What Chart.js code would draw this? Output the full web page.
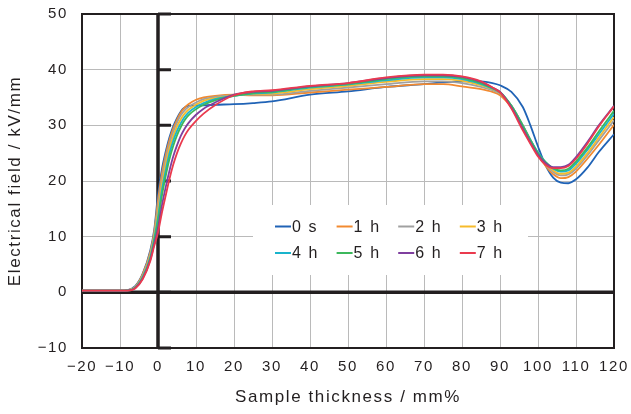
<!DOCTYPE html>
<html>
<head>
<meta charset="utf-8">
<script src="https://cdn.jsdelivr.net/npm/chart.js@4"></script>
<style>
  html, body { margin: 0; padding: 0; background: #fff; }
  #wrap { width: 631px; height: 414px; }
</style>
</head>
<body>
<div id="wrap"><canvas id="c" width="631" height="414"></canvas></div>
<script>
// Sample thickness positions (mm%) shared by all curves
const thickness = [-20, -10, -8, -6, -4, -2, -1, 0, 1, 2, 3, 4, 5, 6, 7, 8, 10, 12, 15, 20, 25, 30, 40, 50, 60, 70, 75, 80, 85, 88, 90, 93, 96, 98, 100, 102, 104, 106, 108, 110, 113, 116, 120];

// Electrical field (kV/mm) after each ageing time
const field0s = [0.3, 0.3, 0.4, 1.1, 3.4, 7.6, 11.2, 17.5, 22.0, 25.2, 27.8, 29.8, 31.3, 32.5, 33.2, 33.5, 33.6, 33.6, 33.7, 33.8, 34.0, 34.3, 35.5, 36.1, 36.9, 37.4, 37.7, 37.9, 37.9, 37.6, 37.2, 36.0, 33.3, 30.0, 26.2, 22.8, 20.6, 19.7, 19.6, 20.3, 22.4, 25.2, 28.4];
const field1h = [0.3, 0.3, 0.4, 1.0, 3.3, 7.3, 10.8, 16.5, 21.2, 24.6, 27.3, 29.4, 31.0, 32.3, 33.2, 33.8, 34.6, 35.0, 35.3, 35.5, 35.4, 35.4, 35.9, 36.4, 36.9, 37.4, 37.4, 37.0, 36.5, 36.0, 35.4, 33.2, 29.8, 27.3, 24.8, 22.7, 21.2, 20.5, 20.7, 21.7, 24.0, 26.5, 30.1];
const field2h = [0.3, 0.3, 0.4, 0.95, 3.1, 7.0, 10.4, 15.4, 20.2, 23.8, 26.6, 28.8, 30.5, 31.8, 32.7, 33.3, 34.1, 34.7, 35.1, 35.4, 35.5, 35.5, 36.2, 36.8, 37.4, 37.9, 37.9, 37.6, 36.9, 36.3, 35.7, 33.5, 30.0, 27.4, 24.9, 23.0, 21.6, 21.0, 21.2, 22.2, 24.6, 27.3, 30.9];
const field3h = [0.3, 0.3, 0.35, 0.9, 2.9, 6.7, 10.0, 14.4, 19.2, 22.8, 25.8, 28.0, 29.8, 31.1, 32.1, 32.8, 33.7, 34.4, 34.9, 35.4, 35.6, 35.7, 36.5, 37.1, 37.8, 38.3, 38.3, 38.0, 37.2, 36.5, 35.8, 33.5, 30.0, 27.4, 25.0, 23.2, 21.9, 21.3, 21.5, 22.6, 25.0, 27.8, 31.5];
const field4h = [0.3, 0.3, 0.35, 0.85, 2.8, 6.4, 9.6, 13.5, 18.2, 21.8, 24.9, 27.2, 29.0, 30.4, 31.5, 32.3, 33.3, 34.0, 34.7, 35.3, 35.7, 35.9, 36.8, 37.3, 38.1, 38.6, 38.6, 38.3, 37.4, 36.6, 35.9, 33.5, 30.0, 27.4, 25.1, 23.4, 22.2, 21.7, 21.9, 23.1, 25.6, 28.4, 32.1];
const field5h = [0.3, 0.3, 0.3, 0.8, 2.6, 6.1, 9.2, 12.7, 17.2, 20.8, 23.9, 26.3, 28.2, 29.7, 30.9, 31.8, 32.9, 33.7, 34.5, 35.3, 35.8, 36.0, 36.9, 37.4, 38.3, 38.8, 38.8, 38.5, 37.6, 36.7, 36.0, 33.5, 29.9, 27.3, 25.0, 23.4, 22.3, 21.9, 22.2, 23.5, 26.0, 28.9, 32.6];
const field6h = [0.3, 0.3, 0.3, 0.75, 2.5, 5.9, 8.7, 11.5, 15.5, 18.8, 21.8, 24.4, 26.4, 28.1, 29.4, 30.4, 31.9, 33.0, 34.1, 35.5, 36.0, 36.2, 37.0, 37.6, 38.5, 39.0, 39.0, 38.7, 37.8, 36.8, 36.0, 33.2, 29.4, 26.9, 24.7, 23.2, 22.5, 22.5, 22.9, 24.3, 27.0, 30.0, 33.5];
const field7h = [0.3, 0.3, 0.3, 0.7, 2.4, 5.7, 8.3, 10.7, 14.2, 17.3, 20.3, 22.9, 25.0, 26.7, 28.1, 29.2, 30.8, 32.1, 33.6, 35.4, 36.1, 36.3, 37.1, 37.6, 38.6, 39.1, 39.1, 38.8, 37.9, 36.8, 35.9, 33.0, 29.1, 26.7, 24.4, 22.9, 22.3, 22.3, 22.7, 24.0, 26.7, 29.8, 33.4];

const seriesLabels = ["0 s", "1 h", "2 h", "3 h", "4 h", "5 h", "6 h", "7 h"];
const seriesValues = [field0s, field1h, field2h, field3h, field4h, field5h, field6h, field7h];
const seriesColors = ["#2063b6", "#f28a30", "#a0a0a0", "#f6bb2b", "#19b4cc", "#3cb85c", "#7f3f9f", "#ea3a4e"];

// Axis tick values and their printed labels
const xTickValues = [-20, -10, 0, 10, 20, 30, 40, 50, 60, 70, 80, 90, 100, 110, 120];
const xTickLabels = ["\u221220", "\u221210", "0", "10", "20", "30", "40", "50", "60", "70", "80", "90", "100", "110", "120"];
const yTickValues = [-10, 0, 10, 20, 30, 40, 50];
const yTickLabels = ["\u221210", "0", "10", "20", "30", "40", "50"];

const INK = "#231f20";
const FONT = "'Liberation Sans', Arial, sans-serif";
const TRACKING = "1.6px";

// Slightly open letter spacing for every text drawn on the canvas
const tracking = {
  id: "tracking",
  beforeDraw(chart) { chart.ctx.letterSpacing = TRACKING; }
};

// Plot frame, heavy zero lines and the short ticks on the vertical zero line
const zeroAxes = {
  id: "zeroAxes",
  beforeDatasetsDraw(chart) {
    const { ctx, chartArea: a, scales: { x, y } } = chart;
    ctx.save();
    ctx.strokeStyle = INK;
    ctx.lineWidth = 2;
    ctx.strokeRect(a.left, a.top, a.right - a.left, a.bottom - a.top);
    const x0 = x.getPixelForValue(0);
    const y0 = y.getPixelForValue(0);
    ctx.lineWidth = 3.5;
    ctx.beginPath();
    ctx.moveTo(a.left, y0); ctx.lineTo(a.right, y0);
    ctx.moveTo(x0, a.top); ctx.lineTo(x0, a.bottom);
    ctx.stroke();
    ctx.lineWidth = 3;
    ctx.beginPath();
    yTickValues.forEach(v => {
      const py = y.getPixelForValue(v);
      ctx.moveTo(x0, py); ctx.lineTo(x0 + 13, py);
    });
    ctx.stroke();
    ctx.restore();
  }
};

// Two-row legend on a white panel inside the plot
const panelLegend = {
  id: "panelLegend",
  afterDatasetsDraw(chart) {
    const { ctx, chartArea: a } = chart;
    const left = a.left + 171, top = a.top + 191, w = 275, h = 70;
    ctx.save();
    ctx.letterSpacing = TRACKING;
    ctx.fillStyle = "#fff";
    ctx.fillRect(left, top, w, h);
    ctx.font = "16px " + FONT;
    ctx.textBaseline = "middle";
    ctx.textAlign = "left";
    chart.data.datasets.forEach((ds, i) => {
      const col = i % 4, row = Math.floor(i / 4);
      const lx = left + 22 + col * 61.6;
      const ly = top + 21.5 + row * 26.5;
      ctx.strokeStyle = ds.borderColor;
      ctx.lineWidth = 2;
      ctx.beginPath();
      ctx.moveTo(lx, ly); ctx.lineTo(lx + 16, ly);
      ctx.stroke();
      ctx.fillStyle = INK;
      ctx.fillText(ds.label, lx + 17, ly + 1);
    });
    ctx.restore();
  }
};

const datasets = seriesLabels.map((label, i) => ({
  label,
  data: thickness.map((t, k) => ({ x: t, y: seriesValues[i][k] })),
  borderColor: seriesColors[i],
  backgroundColor: seriesColors[i],
  borderWidth: 1.8,
  pointRadius: 0,
  fill: false,
  tension: 0.4,
  cubicInterpolationMode: "monotone",
  order: seriesLabels.length - i
}));

new Chart(document.getElementById("c"), {
  type: "line",
  data: { datasets },
  options: {
    responsive: false,
    devicePixelRatio: 1,
    animation: false,
    layout: { padding: { top: 14, right: 17, left: 0, bottom: 0 } },
    plugins: { legend: { display: false }, tooltip: { enabled: false } },
    scales: {
      x: {
        type: "linear",
        min: -20, max: 120,
        afterBuildTicks: s => { s.ticks = xTickValues.map(v => ({ value: v })); },
        afterFit: s => { s.height = 66; s.paddingLeft = 10; s.paddingRight = 10; },
        grid: { color: "#bababa", lineWidth: 1, drawTicks: false },
        border: { display: false },
        ticks: {
          padding: 10, color: INK, maxRotation: 0, autoSkip: false,
          font: { family: FONT, size: 15 },
          callback: (v, i) => xTickLabels[i]
        },
        title: {
          display: true, text: "Sample thickness / mm%", color: INK,
          font: { family: FONT, size: 17 }, padding: { top: 0, bottom: 6 }
        }
      },
      y: {
        type: "linear",
        min: -10, max: 50,
        afterBuildTicks: s => { s.ticks = yTickValues.map(v => ({ value: v })); },
        afterFit: s => { s.width = 82; s.paddingTop = 8; s.paddingBottom = 8; },
        grid: { color: "#bababa", lineWidth: 1, drawTicks: false },
        border: { display: false },
        ticks: {
          padding: 14, color: INK, autoSkip: false,
          font: { family: FONT, size: 15 },
          callback: (v, i) => yTickLabels[i]
        },
        title: {
          display: true, text: "Electrical field / kV/mm", color: INK,
          font: { family: FONT, size: 17 }, padding: { top: 5, bottom: 0 }
        }
      }
    }
  },
  plugins: [tracking, zeroAxes, panelLegend]
});
</script>
</body>
</html>
